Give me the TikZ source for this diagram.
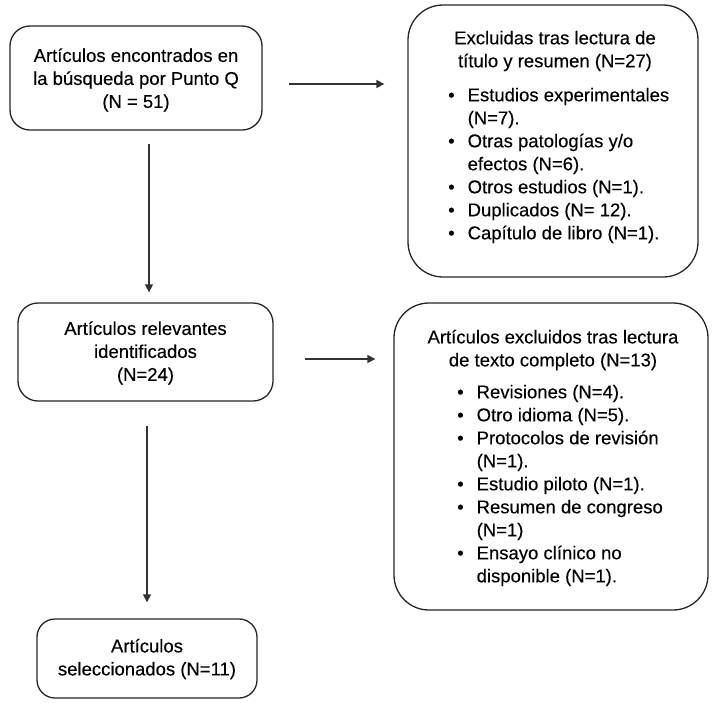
\documentclass[tikz,border=0pt]{standalone}
\usepackage{fontspec}
\setmainfont{Liberation Sans}[UprightFeatures={FakeBold=0.25}]
\usetikzlibrary{arrows.meta,calc}
\begin{document}
\begin{tikzpicture}[x=1pt,y=-1pt,
  box/.style={draw=black!85,line width=1.3pt,fill=none,inner sep=0pt},
  arr/.style={draw=black!80,line width=1.5pt,-{Triangle[length=8pt,width=8pt]}},
  txt/.style={inner sep=0pt,align=center,font=\fontsize{18.5}{23}\selectfont},
  lst/.style={inner sep=0pt,align=left,font=\fontsize{18.5}{23}\selectfont}]
\useasboundingbox (0,0) rectangle (712,702);
% boxes
\node[box,rounded corners=20pt,minimum width=252pt,minimum height=104pt] (b1) at (136,78) {};
\node[box,rounded corners=35pt,minimum width=290pt,minimum height=272pt] (b2) at (553,141) {};
\node[box,rounded corners=20pt,minimum width=255pt,minimum height=98pt] (b3) at (145.5,352) {};
\node[box,rounded corners=35pt,minimum width=314pt,minimum height=307pt] (b4) at (551,456.5) {};
\node[box,rounded corners=18pt,minimum width=220pt,minimum height=79pt] (b5) at (147,658.5) {};
% texts
\node[txt] (t1) at (136,80) {Artículos encontrados en\\la búsqueda por Punto Q\\(N = 51)};
\node[txt] (t3) at (145.5,353) {Artículos relevantes\\identificados\\(N=24)};
\node[txt] (t5) at (147,659) {Artículos\\seleccionados (N=11)};
\node[txt] (t2) at (555,51) {Excluidas tras lectura de\\título y resumen (N=27)};
\node[txt] (t4) at (553,350) {Artículos excluidos tras lectura\\de texto completo (N=13)};
\node[lst,anchor=north west] (l2) at (448,85) {%
\begin{tabular}{@{}l@{\hspace{13pt}}l@{}}
\textbullet & Estudios experimentales\\
 & (N=7).\\
\textbullet & Otras patologías y/o\\
 & efectos (N=6).\\
\textbullet & Otros estudios (N=1).\\
\textbullet & Duplicados (N= 12).\\
\textbullet & Capítulo de libro (N=1).
\end{tabular}};
\node[lst,anchor=north west] (l4) at (457,382) {%
\begin{tabular}{@{}l@{\hspace{13pt}}l@{}}
\textbullet & Revisiones (N=4).\\
\textbullet & Otro idioma (N=5).\\
\textbullet & Protocolos de revisión\\
 & (N=1).\\
\textbullet & Estudio piloto (N=1).\\
\textbullet & Resumen de congreso\\
 & (N=1)\\
\textbullet & Ensayo clínico no\\
 & disponible (N=1).
\end{tabular}};
% arrows
\draw[arr] ($(b1.east)+(26,6)$) -- ($(b2.west)+(-23,-57)$);
\draw[arr] ($(b3.east)+(31,7)$) -- ($(b4.west)+(-18,-97.5)$);
\draw[arr] ($(b1.south)+(13,13)$) -- ($(b3.north)+(3.5,-10)$);
\draw[arr] ($(b3.south)+(1.5,24)$) -- ($(b5.north)+(0,-16)$);
\end{tikzpicture}
\end{document}
